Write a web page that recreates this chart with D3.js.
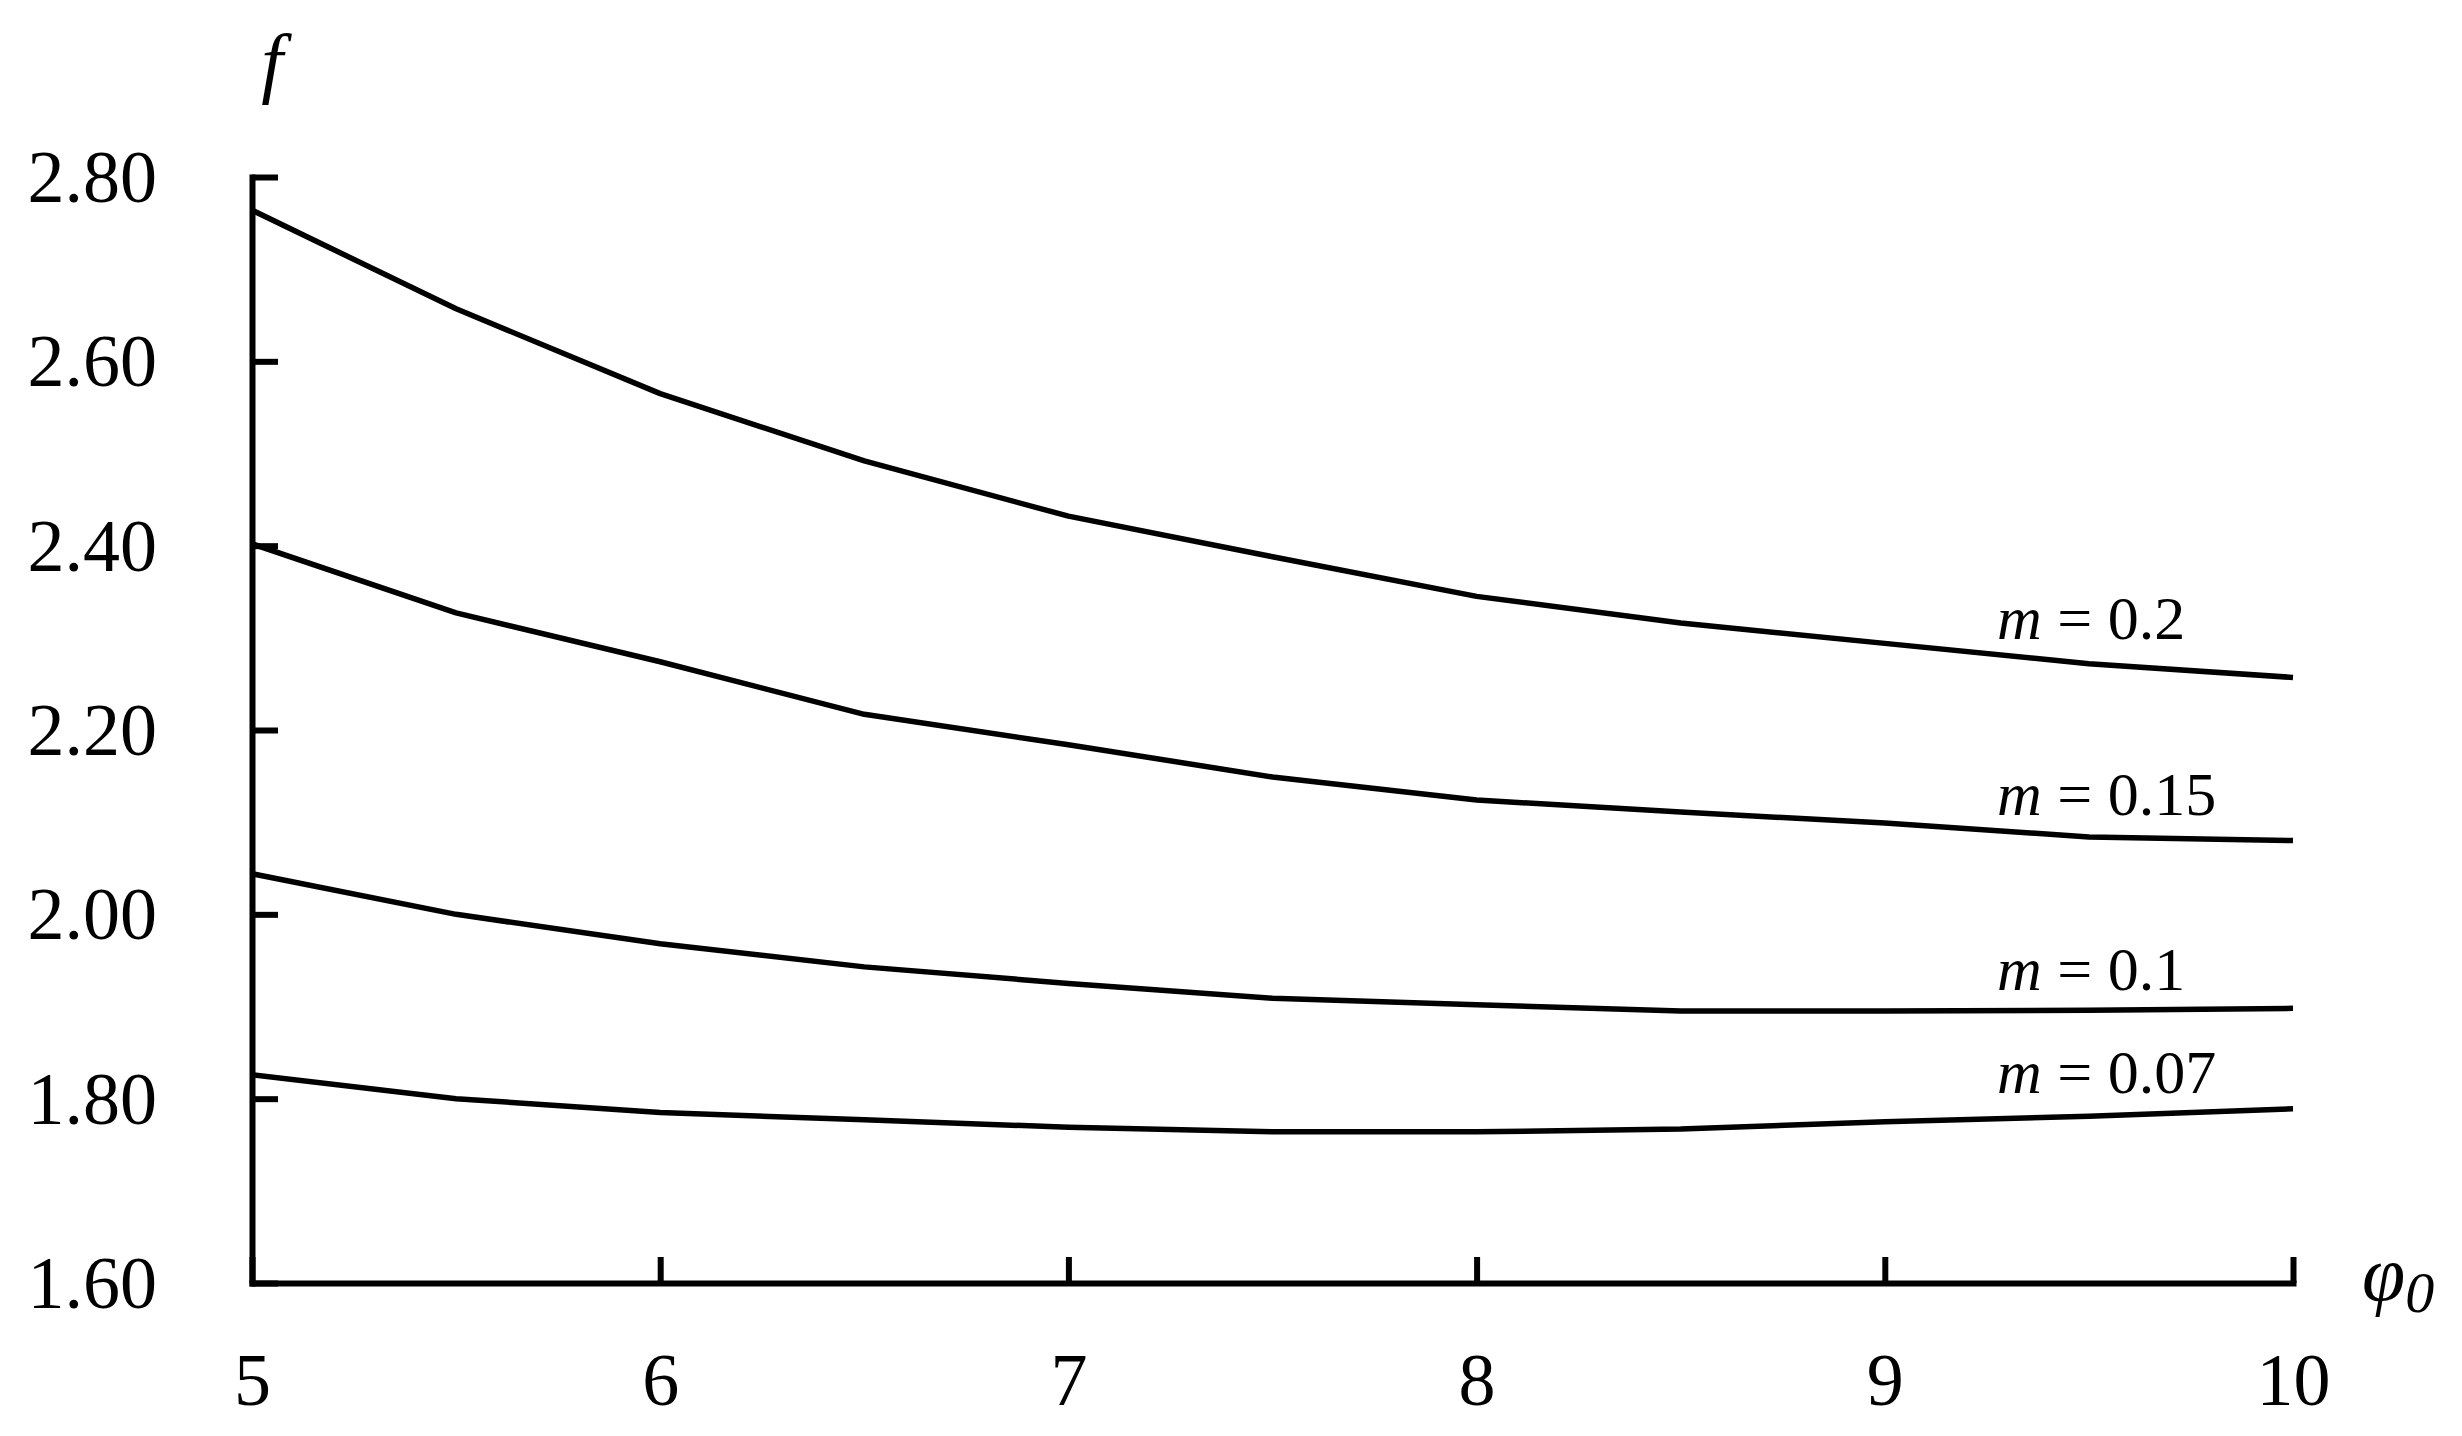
<!DOCTYPE html>
<html>
<head>
<meta charset="utf-8">
<script src="https://cdn.jsdelivr.net/npm/d3@7"></script>
<style>
  html, body { margin: 0; padding: 0; background: #fff; }
  svg { display: block; }
  text { font-family: "Liberation Serif", "Times New Roman", serif; fill: #000; }
</style>
</head>
<body>
<svg id="chart" width="2462" height="1436"></svg>
<script>
// ---- data ----
const phi = [5, 5.5, 6, 6.5, 7, 7.5, 8, 8.5, 9, 9.5, 10];
const f_m020 = [2.764, 2.657, 2.565, 2.492, 2.432, 2.388, 2.345, 2.316, 2.294, 2.272, 2.257];
const f_m015 = [2.402, 2.327, 2.274, 2.217, 2.184, 2.149, 2.124, 2.111, 2.099, 2.084, 2.080];
const f_m010 = [2.044, 2.000, 1.968, 1.943, 1.925, 1.909, 1.902, 1.895, 1.895, 1.896, 1.898];
const f_m007 = [1.826, 1.800, 1.785, 1.777, 1.769, 1.764, 1.764, 1.767, 1.775, 1.781, 1.789];
const mValues = ["0.2", "0.15", "0.1", "0.07"];
const xTicks = [5, 6, 7, 8, 9, 10];
const yTicks = [1.60, 1.80, 2.00, 2.20, 2.40, 2.60, 2.80];

const series = [f_m020, f_m015, f_m010, f_m007];
// label baseline positions (pixel layout, not data)
const labelBaselines = [639, 815, 990, 1093];

// ---- layout ----
const svg = d3.select("#chart");
const x = d3.scaleLinear().domain([5, 10]).range([252, 2293]);
const y = d3.scaleLinear().domain([1.6, 2.8]).range([1283, 177]);

// axes
const yAxis = d3.axisLeft(y).tickValues(yTicks).tickSizeInner(-26).tickSizeOuter(0)
  .tickPadding(95).tickFormat(d3.format(".2f"));
const xAxis = d3.axisBottom(x).tickValues(xTicks).tickSizeInner(-26).tickSizeOuter(0)
  .tickPadding(60).tickFormat(d3.format("d"));

const gy = svg.append("g").attr("transform", `translate(${x(5)},0)`).call(yAxis);
const gx = svg.append("g").attr("transform", `translate(0,${y(1.6)})`).call(xAxis);

[gx, gy].forEach(g => {
  g.select(".domain").attr("stroke", "#000").attr("stroke-width", 6).attr("stroke-linecap", "square");
  g.selectAll(".tick line").attr("stroke", "#000").attr("stroke-width", 6);
  g.selectAll(".tick text").attr("font-family", '"Liberation Serif", serif').attr("font-size", 74).attr("fill", "#000");
});
gy.selectAll(".tick text").attr("x", -95).attr("dy", "0.33em").attr("text-anchor", "end");
gx.selectAll(".tick text").attr("y", 0).attr("dy", 0).attr("transform", "translate(0,122)");

// lines
const line = d3.line().x((d, i) => x(phi[i])).y(d => y(d)).curve(d3.curveLinear);
svg.append("g").selectAll("path").data(series).join("path")
  .attr("d", d => line(d))
  .attr("fill", "none").attr("stroke", "#000").attr("stroke-width", 5.5)
  .attr("stroke-linejoin", "round").attr("stroke-linecap", "butt");

// series labels
const lbl = svg.append("g").selectAll("text").data(mValues).join("text")
  .attr("x", 1997).attr("y", (d, i) => labelBaselines[i])
  .attr("font-size", 62);
lbl.append("tspan").attr("font-style", "italic").text("m");
lbl.append("tspan").text(d => " = " + d);

// axis titles
svg.append("text").attr("x", 272).attr("y", 88).attr("text-anchor", "middle")
  .attr("font-size", 78).attr("font-style", "italic").text("f");
const phiLbl = svg.append("text").attr("x", 2362).attr("y", 1300).attr("font-size", 78).attr("font-style", "italic");
phiLbl.append("tspan").text("φ");
phiLbl.append("tspan").attr("font-size", 58).attr("dy", 12).text("0");
</script>
</body>
</html>
